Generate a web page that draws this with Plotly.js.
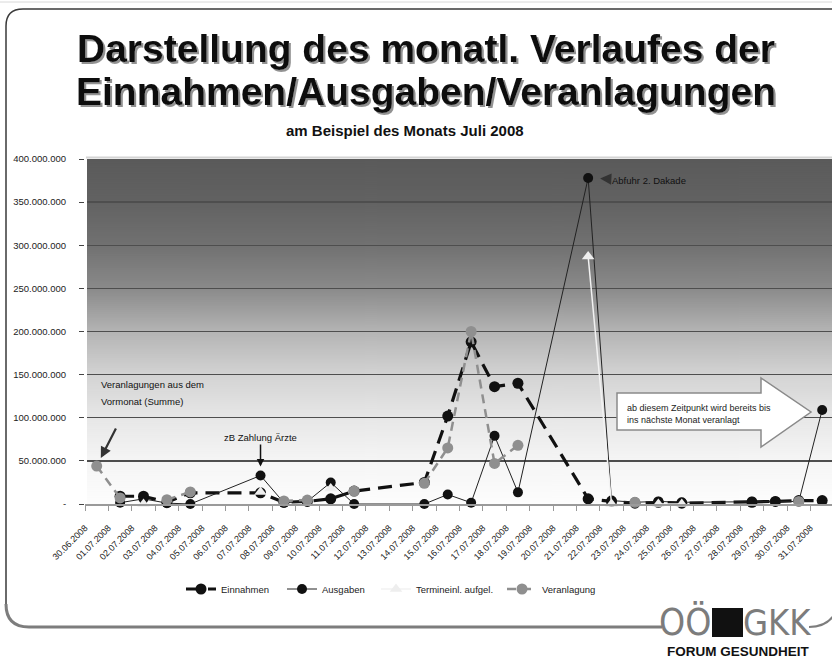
<!DOCTYPE html>
<html><head><meta charset="utf-8">
<script src="https://cdn.plot.ly/plotly-3.0.1.min.js"></script>
<style>html,body{margin:0;padding:0;background:#fff;overflow:hidden}#chart{width:832px;height:658px}</style>
</head><body>
<svg width="0" height="0" style="position:absolute">
  <defs>
    <filter id="titleShadow" x="-5%" y="-30%" width="112%" height="170%">
      <feGaussianBlur in="SourceAlpha" stdDeviation="0.7" result="b"/>
      <feOffset in="b" dx="2.2" dy="2.2" result="o"/>
      <feFlood flood-color="#8c8c8c" flood-opacity="0.95"/>
      <feComposite in2="o" operator="in" result="s"/>
      <feMerge><feMergeNode in="s"/><feMergeNode in="SourceGraphic"/></feMerge>
    </filter>
  </defs>
</svg>
<div id="chart"></div>
<script>
// ---------- data (values in millions) ----------
const dates = ['30.06.2008','01.07.2008','02.07.2008','03.07.2008','04.07.2008','05.07.2008','06.07.2008','07.07.2008',
  '08.07.2008','09.07.2008','10.07.2008','11.07.2008','12.07.2008','13.07.2008','14.07.2008','15.07.2008',
  '16.07.2008','17.07.2008','18.07.2008','19.07.2008','20.07.2008','21.07.2008','22.07.2008','23.07.2008',
  '24.07.2008','25.07.2008','26.07.2008','27.07.2008','28.07.2008','29.07.2008','30.07.2008','31.07.2008'];
const einnahmen   = [null, 9, 9, 2, 13, null, null, 13, 2, 3, 6, 15, null, null, 25, 102, 188, 136, 140, null, null, 6, 3, 1, 2, 1, null, null, 2, 3, 4, 4];
const ausgaben    = [null, 1.5, 6, 1, 0, null, null, 33, 1.5, 3, 25, 0, null, null, 0, 11, 1.5, 79, 13.5, null, null, 378, 4, 2, 3, 2, null, null, 3, 3, 3, 109];
const termineinl  = [null, null, 0, null, null, null, null, 14, null, null, 18, null, null, null, null, null, null, null, null, null, null, 287, 0, null, 0, 0, null, null, null, null, null, null];
const veranlagung = [44, 7, null, 5, 14, null, null, null, 3.5, 4.6, null, 15, null, null, 24, 65, 200, 47, 68, null, null, null, null, 2, null, null, null, null, null, null, 3, null];
const seriesNames = ['Einnahmen', 'Ausgaben', 'Termineinl. aufgel.', 'Veranlagung'];
const yTickVals = [0, 50, 100, 150, 200, 250, 300, 350, 400];
const yTickText = ['-', '50.000.000', '100.000.000', '150.000.000', '200.000.000', '250.000.000', '300.000.000', '350.000.000', '400.000.000'];

// ---------- geometry helpers (pixel -> paper) ----------
const ML = 85, MT = 159, PW = 747, PH = 345;
const PX = x => (x - ML) / PW;
const PY = y => (MT + PH - y) / PH;
const pth = cmds => cmds.map(c => c[0] + ' ' + c.slice(1).reduce((a, v, i) => a + (i % 2 === 0 ? PX(v) : ',' + PY(v) + ' '), '')).join(' ');

// ---------- gradient background ----------
const cv = document.createElement('canvas'); cv.width = 4; cv.height = PH;
const cx = cv.getContext('2d');
const gr = cx.createLinearGradient(0, 0, 0, PH);
[[0, 90], [0.125, 98], [0.25, 113], [0.375, 138], [0.5, 180], [0.625, 211], [0.75, 231], [0.875, 245], [1, 253]]
  .forEach(s => gr.addColorStop(s[0], `rgb(${s[1]},${s[1]},${s[1]})`));
cx.fillStyle = gr; cx.fillRect(0, 0, 4, PH);

const FONT = 'Liberation Sans, Arial, sans-serif';
const NARROW = 'Liberation Sans Narrow, DejaVu Sans Condensed, Arial, sans-serif';

const traces = [
  {x: dates, y: einnahmen, name: seriesNames[0], legend: 'legend', type: 'scatter', mode: 'lines+markers', connectgaps: true, cliponaxis: false,
   line: {color: '#111', width: 3.2, dash: '14px,8px'}, marker: {color: '#111', size: 11, symbol: 'circle'}},
  {x: dates, y: ausgaben, name: seriesNames[1], legend: 'legend2', type: 'scatter', mode: 'lines+markers', connectgaps: true, cliponaxis: false,
   line: {color: '#222', width: 1}, marker: {color: '#111', size: 10, symbol: 'circle'}},
  {x: dates, y: termineinl, name: seriesNames[2], legend: 'legend3', type: 'scatter', mode: 'lines+markers', connectgaps: false, cliponaxis: false,
   line: {color: '#f2f2f2', width: 1.5}, marker: {color: '#eeeeee', size: 11, symbol: 'triangle-up'}},
  {x: dates, y: veranlagung, name: seriesNames[3], legend: 'legend4', type: 'scatter', mode: 'lines+markers', connectgaps: false, cliponaxis: false,
   line: {color: '#8f8f8f', width: 2.5, dash: '9px,6px'}, marker: {color: '#8f8f8f', size: 11, symbol: 'circle'}},
  // carrier for the shifted date-label axis (no visible marks)
  {x: dates.map((d, i) => i), y: dates.map(() => null), xaxis: 'x2', yaxis: 'y', type: 'scatter', mode: 'markers',
   showlegend: false, hoverinfo: 'skip', marker: {opacity: 0}}
];

const shapes = [
  // bevel of plot area
  {type: 'line', xref: 'paper', yref: 'paper', x0: PX(86), x1: PX(86), y0: 0, y1: PY(158), line: {color: '#ffffff', width: 2}},
  {type: 'line', xref: 'paper', yref: 'paper', x0: PX(86), x1: 1.01, y0: PY(157.5), y1: PY(157.5), line: {color: '#d4d4d4', width: 2}},
  // slide frame
  {type: 'line', xref: 'paper', yref: 'paper', x0: PX(0), x1: PX(832), y0: PY(2), y1: PY(2), line: {color: '#d8d8d8', width: 1}},
  {type: 'path', xref: 'paper', yref: 'paper', path: pth([['M', 6, 606], ['L', 6, 26], ['Q', 6, 9, 23, 9], ['L', 834, 9]]), line: {color: '#3a3a3a', width: 1.5}},
  {type: 'path', xref: 'paper', yref: 'paper', path: pth([['M', 6, 604], ['Q', 6, 627, 29, 627], ['L', 662, 627]]), line: {color: '#7d7d7d', width: 3}},
  {type: 'path', xref: 'paper', yref: 'paper', path: pth([['M', 809, 627], ['Q', 826, 627, 834, 615]]), line: {color: '#7d7d7d', width: 2}},
  // logo square
  {type: 'rect', xref: 'paper', yref: 'paper', x0: PX(712), x1: PX(743), y0: PY(637), y1: PY(608), fillcolor: '#111', line: {width: 0}},
  // block arrow
  {type: 'path', xref: 'paper', yref: 'paper',
   path: pth([['M', 617, 393], ['L', 761, 393], ['L', 761, 378], ['L', 811, 412], ['L', 761, 447], ['L', 761, 430], ['L', 617, 430], ['Z']]),
   fillcolor: '#ffffff', line: {color: '#8a8a8a', width: 1.5}}
];

const ann = [];
[['Darstellung des monatl. Verlaufes der', 48], ['Einnahmen/Ausgaben/Veranlagungen', 91]].forEach(t => {
  ann.push({text: '<b>' + t[0] + '</b>', xref: 'paper', yref: 'paper', x: PX(426), y: PY(t[1]), showarrow: false,
    xanchor: 'center', yanchor: 'middle', font: {family: FONT, size: 39, color: '#111'}});
});
ann.push({text: '<b>am Beispiel des Monats Juli 2008</b>', xref: 'paper', yref: 'paper', x: PX(405), y: PY(131), showarrow: false,
  xanchor: 'center', yanchor: 'middle', font: {family: FONT, size: 15, color: '#111'}});
ann.push({text: 'Veranlagungen aus dem', xref: 'paper', yref: 'paper', x: PX(99), y: PY(384), showarrow: false,
  xanchor: 'left', yanchor: 'middle', font: {family: FONT, size: 9.5, color: '#111'}});
ann.push({text: 'Vormonat (Summe)', xref: 'paper', yref: 'paper', x: PX(99), y: PY(401), showarrow: false,
  xanchor: 'left', yanchor: 'middle', font: {family: FONT, size: 9.5, color: '#111'}});
ann.push({text: '', x: dates[0], y: veranlagung[0], ax: 20, ay: -39, showarrow: true, arrowhead: 2, arrowsize: 1,
  arrowwidth: 2.2, arrowcolor: '#333', standoff: 9});
ann.push({text: 'zB Zahlung Ärzte', x: dates[7], y: ausgaben[7], ax: 0, ay: -38, showarrow: true, arrowhead: 2, arrowsize: 1,
  arrowwidth: 1.5, arrowcolor: '#111', standoff: 9, font: {family: FONT, size: 9.5, color: '#111'}});
ann.push({text: 'Abfuhr 2. Dakade', x: dates[21], y: ausgaben[21], ax: 61, ay: 3, showarrow: true, arrowhead: 2, arrowsize: 0.9,
  arrowwidth: 2.5, arrowcolor: '#333', standoff: 12, font: {family: FONT, size: 9.5, color: '#111'}});
ann.push({text: 'ab diesem Zeitpunkt wird bereits bis<br>ins nächste Monat veranlagt', xref: 'paper', yref: 'paper',
  x: PX(625), y: PY(413.5), showarrow: false, xanchor: 'left', yanchor: 'middle', align: 'left',
  font: {family: FONT, size: 9, color: '#222'}});
ann.push({text: 'OÖ', xref: 'paper', yref: 'paper', x: PX(685), y: PY(622), showarrow: false, xanchor: 'center', yanchor: 'middle',
  font: {family: NARROW, size: 37, color: '#7c7c7c'}});
ann.push({text: 'GKK', xref: 'paper', yref: 'paper', x: PX(777), y: PY(622), showarrow: false, xanchor: 'center', yanchor: 'middle',
  font: {family: NARROW, size: 36, color: '#7c7c7c'}});
ann.push({text: '<b>FORUM GESUNDHEIT</b>', xref: 'paper', yref: 'paper', x: PX(738), y: PY(651), showarrow: false, xanchor: 'center', yanchor: 'middle',
  font: {family: FONT, size: 13.5, color: '#111'}});

const legendBase = {orientation: 'h', y: PY(589), xanchor: 'left', yanchor: 'middle', font: {family: FONT, size: 9.5, color: '#222'},
  bgcolor: 'rgba(0,0,0,0)'};

const layout = {
  width: 832, height: 658,
  margin: {l: ML, r: 0, t: MT, b: 658 - MT - PH, pad: 0},
  paper_bgcolor: '#ffffff', plot_bgcolor: 'rgba(0,0,0,0)',
  font: {family: FONT, size: 9.5, color: '#222'},
  showlegend: true,
  legend: Object.assign({}, legendBase, {x: PX(181)}),
  legend2: Object.assign({}, legendBase, {x: PX(282)}),
  legend3: Object.assign({}, legendBase, {x: PX(376)}),
  legend4: Object.assign({}, legendBase, {x: PX(502)}),
  xaxis: {type: 'category', range: [-0.5, 31.42], showticklabels: false, ticks: 'outside', tickson: 'boundaries', ticklen: 5,
    tickcolor: '#999', showgrid: false, showline: true, linecolor: '#9a9a9a', linewidth: 1.5, zeroline: false, fixedrange: true},
  xaxis2: {overlaying: 'x', anchor: 'y', side: 'bottom', type: 'linear', range: [0, 31.92],
    tickmode: 'array', tickvals: dates.map((d, i) => i), ticktext: dates, tickangle: -45,
    tickfont: {family: FONT, size: 9, color: '#222'}, ticks: '', showgrid: false, showline: false, zeroline: false, ticklabelstandoff: 16},
  yaxis: {range: [0, 400], tickmode: 'array', tickvals: yTickVals, ticktext: yTickText, ticks: 'outside', ticklen: 5, tickcolor: '#444',
    tickfont: {family: FONT, size: 9.5, color: '#222'}, showgrid: true, gridcolor: '#4e4e4e', gridwidth: 1.3, zeroline: false,
    showline: false, ticklabelstandoff: 11},
  images: [{source: cv.toDataURL(), xref: 'paper', yref: 'paper', x: 0, y: 1, sizex: 1, sizey: 1, sizing: 'stretch',
    xanchor: 'left', yanchor: 'top', layer: 'below'}],
  shapes: shapes,
  annotations: ann
};

function addTitleShadow() {
  [0, 1].forEach(i => {
    const t = document.querySelector('#chart .annotation[data-index="' + i + '"] text.annotation-text');
    if (t) t.setAttribute('filter', 'url(#titleShadow)');
  });
}
const p = Plotly.newPlot('chart', traces, layout, {displayModeBar: false, staticPlot: true});
addTitleShadow();
p.then(addTitleShadow);
</script></body></html>
